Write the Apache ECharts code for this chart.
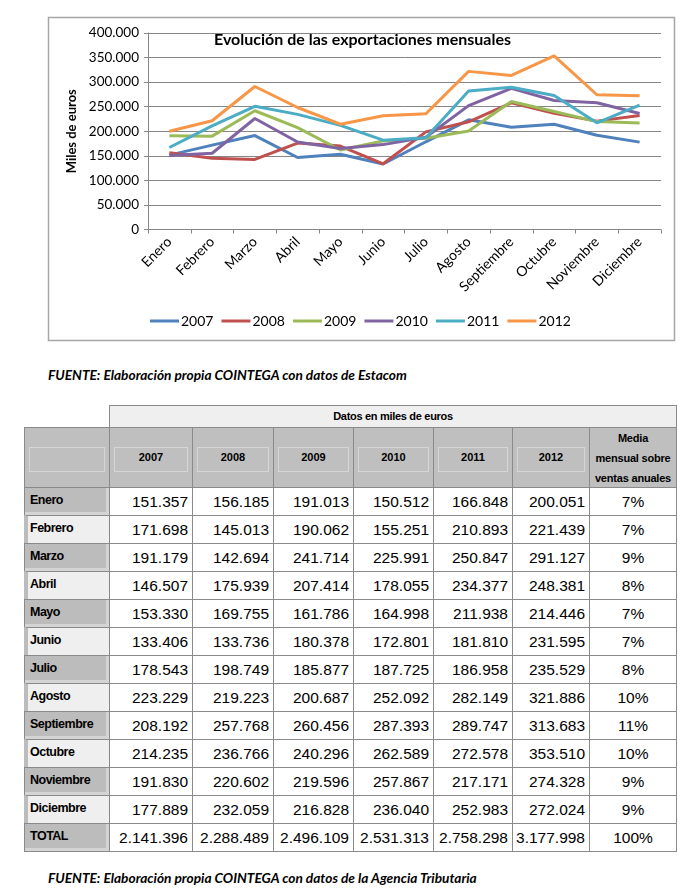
<!DOCTYPE html>
<html><head><meta charset="utf-8">
<script src="https://cdn.jsdelivr.net/npm/echarts@6/dist/echarts.min.js"></script>
<style>
body{margin:0;background:#fff;width:694px;height:896px;position:relative;overflow:hidden;font-family:'Liberation Sans',Arial,sans-serif;color:#000}
#chart{position:absolute;left:0;top:0;width:694px;height:350px}
.note{position:absolute;left:48px;font-family:Lato,sans-serif;font-weight:bold;font-style:italic;font-size:13.7px;white-space:nowrap}
.c{position:absolute;box-sizing:border-box;border:1px solid #8a8a8a;white-space:nowrap;overflow:hidden}
</style></head><body>
<div id="chart"></div>
<div class="note" style="top:366px">FUENTE: Elaboración propia COINTEGA con datos de Estacom</div>
<div id="table"></div>
<div class="note" style="top:869px">FUENTE: Elaboración propia COINTEGA con datos de la Agencia Tributaria</div>
<script>
const months=['Enero','Febrero','Marzo','Abril','Mayo','Junio','Julio','Agosto','Septiembre','Octubre','Noviembre','Diciembre'];
const years=['2007','2008','2009','2010','2011','2012'];
const v2007=[151357,171698,191179,146507,153330,133406,178543,223229,208192,214235,191830,177889];
const v2008=[156185,145013,142694,175939,169755,133736,198749,219223,257768,236766,220602,232059];
const v2009=[191013,190062,241714,207414,161786,180378,185877,200687,260456,240296,219596,216828];
const v2010=[150512,155251,225991,178055,164998,172801,187725,252092,287393,262589,257867,236040];
const v2011=[166848,210893,250847,234377,211938,181810,186958,282149,289747,272578,217171,252983];
const v2012=[200051,221439,291127,248381,214446,231595,235529,321886,313683,353510,274328,272024];
const totals=[2141396,2288489,2496109,2531313,2758298,3177998];
const media=['7%','7%','9%','8%','7%','7%','8%','10%','11%','10%','9%','9%'];
const mediaTotal='100%';
const yTicks=[0,50000,100000,150000,200000,250000,300000,350000,400000];
const tableTitle='Datos en miles de euros';
const mediaHeader=['Media','mensual sobre','ventas anuales'];

const series=[v2007,v2008,v2009,v2010,v2011,v2012];
const colors=['#4F81BD','#C0504D','#9BBB59','#8064A2','#4BACC6','#F79646'];
function fmt(n){return String(n).replace(/\B(?=(\d{3})+(?!\d))/g,'.');}

const chart=echarts.init(document.getElementById('chart'));
chart.setOption({
  animation:false,
  textStyle:{fontFamily:'Lato'},
  graphic:[{type:'rect',z:-10,shape:{x:48.5,y:17.5,width:626,height:323},style:{fill:'#fff',stroke:'#a6a6a6',lineWidth:1.5}}],
  title:{text:'Evolución de las exportaciones mensuales',left:214,top:32,padding:0,textStyle:{fontSize:16,fontWeight:'bold',color:'#000',fontFamily:'Lato'}},
  grid:{left:148,top:33,right:33,bottom:120.5,containLabel:false},
  legend:{left:150,top:314,padding:0,icon:'rect',itemWidth:29,itemHeight:3,itemGap:8,textStyle:{fontSize:14,color:'#000',fontFamily:'Lato',padding:[0,0,0,-3]},data:years},
  xAxis:{type:'category',data:months,boundaryGap:true,
    axisLine:{lineStyle:{color:'#868686',width:1}},
    axisTick:{show:true,length:4,lineStyle:{color:'#868686'}},
    axisLabel:{rotate:45,interval:0,fontSize:14,color:'#000',margin:10,fontFamily:'Lato'}},
  yAxis:{type:'value',min:yTicks[0],max:yTicks[yTicks.length-1],interval:yTicks[1]-yTicks[0],
    name:'Miles de euros',nameLocation:'middle',nameGap:64,
    nameTextStyle:{fontSize:13,fontWeight:'bold',color:'#000',fontFamily:'Lato'},
    axisLine:{show:true,lineStyle:{color:'#868686'}},
    axisTick:{show:true,length:4,lineStyle:{color:'#868686'}},
    axisLabel:{formatter:fmt,fontSize:13.5,color:'#000',margin:9,fontFamily:'Lato'},
    splitLine:{lineStyle:{color:'#868686',width:1}}},
  series:years.map((y,i)=>({type:'line',name:y,data:series[i],symbol:'none',
    lineStyle:{width:3,color:colors[i]},itemStyle:{color:colors[i]}}))
});

// table
const colX=[24,109,192,273,353,433,512,589,676];
const rowTop0=487,rowH=28;
const T=document.getElementById('table');
function cell(x1,x2,y,h,css,html){const d=document.createElement('div');d.className='c';
  d.style.cssText+=`left:${x1}px;top:${y}px;width:${x2-x1+1}px;height:${h+1}px;`+css;d.innerHTML=html||'';T.appendChild(d);return d;}
cell(colX[1],colX[8],405,22,'background:#efefef;font-weight:bold;font-size:11px;text-align:center;line-height:20px;letter-spacing:-0.3px',tableTitle);
// header row
const inset='<div style="position:absolute;left:4px;right:4px;top:19px;height:23px;border:1px solid #d6d6d6"></div>';
cell(colX[0],colX[1],427,60,'background:#bfbfbf',inset);
years.forEach((y,i)=>cell(colX[i+1],colX[i+2],427,60,'background:#bfbfbf;font-weight:bold;font-size:11px;text-align:center;line-height:58px',inset+y));
cell(colX[7],colX[8],427,60,'background:#bfbfbf;font-weight:bold;font-size:11px;text-align:center;line-height:20px;letter-spacing:-0.2px',mediaHeader.join('<br>'));
const rows=months.concat(['TOTAL']);
rows.forEach((m,r)=>{
  const y=rowTop0+r*rowH;
  const dark=(r%2===0);
  const lab=dark?'background:#bcbcbc;box-shadow:inset -3px -3px 0 #d4d4d4;padding-left:5px;':'background:#efefef;border-left:4px solid #bcbcbc;padding-left:2px;';
  cell(colX[0],colX[1],y,rowH,lab+'font-weight:bold;font-size:12.5px;letter-spacing:-0.5px;line-height:24px',m);
  for(let c=0;c<6;c++){
    const v=r<12?series[c][r]:totals[c];
    cell(colX[c+1],colX[c+2],y,rowH,'background:#fff;font-size:15.5px;text-align:right;padding-right:4px;line-height:28px',fmt(v));
  }
  cell(colX[7],colX[8],y,rowH,'background:#fff;font-size:15.5px;text-align:center;line-height:28px',r<12?media[r]:mediaTotal);
});
</script>
</body></html>
